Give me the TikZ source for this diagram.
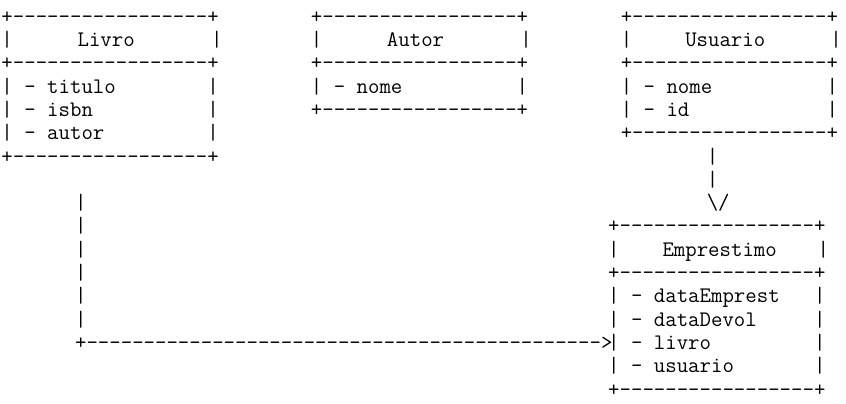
\documentclass[tikz,border=0pt]{standalone}
\usepackage{tikz}

\tikzset{
  ascii/.style={font=\ttfamily\fontsize{22.2}{23.3}\selectfont, inner sep=0pt, anchor=base west}
}
\newcommand{\asciirule}{+-----------------+}
\newcommand{\ttl}[2]{\makebox[198.1pt]{\kern#1#2}}

\begin{document}
\begin{tikzpicture}[x=1pt,y=1pt]
  \useasboundingbox (0,0) rectangle (846,-404);

  % classes
  \foreach \row [count=\i from 0] in {\asciirule, |\ttl{-11.6pt}{Livro}|, \asciirule,
      |~-~titulo~~~~~~~~|, |~-~isbn~~~~~~~~~~|, |~-~autor~~~~~~~~~|, \asciirule}
    \node[ascii] (livro\i) at (1.3,{-23.2-23.3*\i}) {\row};

  \foreach \row [count=\i from 0] in {\asciirule, |\ttl{-11.6pt}{Autor}|, \asciirule,
      |~-~nome~~~~~~~~~~|, \asciirule}
    \node[ascii] (autor\i) at (310.7,{-23.2-23.3*\i}) {\row};

  \foreach \row [count=\i from 0] in {\asciirule, |\ttl{-12pt}{Usuario}|, \asciirule,
      |~-~nome~~~~~~~~~~|, |~-~id~~~~~~~~~~~~|, \asciirule}
    \node[ascii] (usuario\i) at (620.6,{-23.2-23.3*\i}) {\row};

  \foreach \row [count=\i from 9] in {\asciirule, |\ttl{2pt}{Emprestimo}|, \asciirule,
      |~-~dataEmprest~~~|, |~-~dataDevol~~~~~|, |~-~livro~~~~~~~~~|,
      |~-~usuario~~~~~~~|, \asciirule}
    \node[ascii] (emprestimo\i) at (608,{-23.2-23.3*\i}) {\row};

  % links
  \foreach \i in {6,7}
    \node[ascii] (usuarioLink\i) at (706.6,{-23.2-23.3*\i}) {|};
  \node[ascii] (usuarioTip) at (706.6,{-23.2-23.3*8}) {\textbackslash/};

  \foreach \i in {8,...,13}
    \node[ascii] (livroLink\i) at (74.8,{-23.2-23.3*\i}) {|};
  \node[ascii] (livroArrow) at (74.9,{-23.2-23.3*14})
    {+--------------------------------------------->};
\end{tikzpicture}
\end{document}
